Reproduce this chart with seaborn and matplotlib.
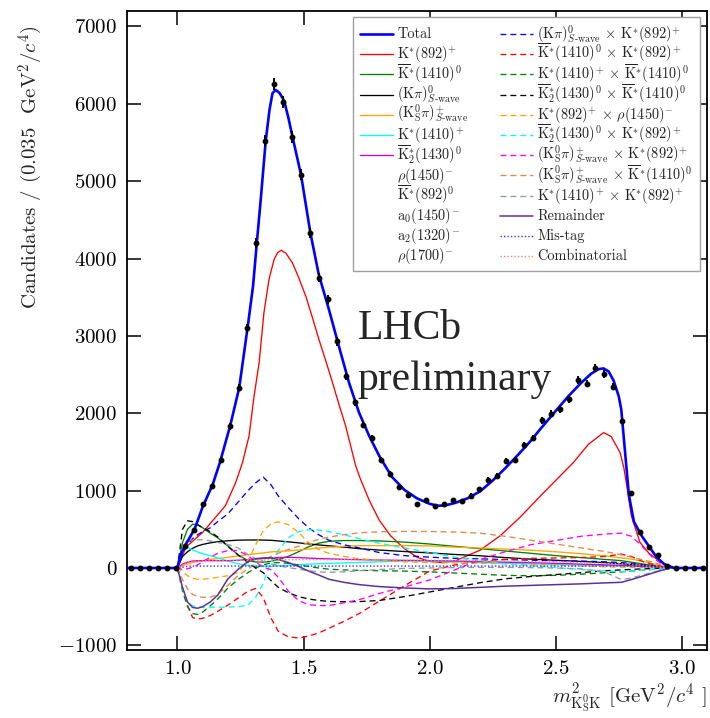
import numpy as np
import matplotlib
matplotlib.use("Agg")
import matplotlib.pyplot as plt
import seaborn as sns
from matplotlib.patches import Rectangle

# ---------------- data ----------------
# binned candidates, 65 bins between 0.8 and 3.1
x_range = (0.8, 3.1)
counts = [0, 0, 0, 0, 0, 0, 280, 490, 826, 1054, 1394, 1832, 2331, 3097, 4206,
          5523, 6258, 6026, 5574, 5084, 4335, 3755, 3471, 2930, 2477, 2144,
          1850, 1674, 1402, 1213, 1045, 946, 830, 873, 800, 830, 873, 860, 933,
          1019, 1139, 1191, 1381, 1394, 1587, 1677, 1908, 1995, 2052, 2181,
          2430, 2383, 2590, 2512, 2344, 1901, 968, 468, 267, 168, 30, 0, 0, 0, 0]

# total fit
tot_x = [0.80, 1.00, 1.01, 1.03, 1.05, 1.07, 1.10, 1.14, 1.17, 1.21, 1.245, 1.28,
         1.30, 1.315, 1.33, 1.35, 1.365, 1.377, 1.39, 1.405, 1.423, 1.44, 1.456,
         1.49, 1.527, 1.56, 1.60, 1.64, 1.68, 1.72, 1.76, 1.80, 1.85, 1.90, 1.95,
         2.00, 2.03, 2.06, 2.10, 2.15, 2.20, 2.25, 2.30, 2.35, 2.40, 2.44, 2.50,
         2.55, 2.60, 2.64, 2.67, 2.69, 2.71, 2.73, 2.75, 2.76, 2.775, 2.79, 2.81,
         2.84, 2.87, 2.90, 2.93, 2.97, 3.10]
tot_y = [0, 0, 150, 290, 400, 520, 790, 1080, 1380, 1850, 2330, 3150, 3650, 4210,
         4750, 5520, 5920, 6138, 6180, 6140, 6040, 5820, 5578, 5084, 4335, 3800,
         3350, 2870, 2400, 2010, 1710, 1450, 1180, 1010, 900, 830, 805, 808, 840,
         900, 990, 1130, 1290, 1460, 1640, 1800, 2030, 2220, 2390, 2510, 2570,
         2580, 2540, 2420, 2220, 2050, 1500, 950, 600, 420, 280, 140, 50, 0, 0]

# K*(892)+
k892_x = [0.80, 1.00, 1.033, 1.10, 1.19, 1.231, 1.258, 1.284, 1.304, 1.324, 1.343,
          1.363, 1.383, 1.398, 1.412, 1.43, 1.456, 1.48, 1.509, 1.535, 1.561, 1.59,
          1.615, 1.64, 1.667, 1.707, 1.726, 1.76, 1.80, 1.845, 1.90, 1.95, 2.00,
          2.05, 2.10, 2.20, 2.28, 2.36, 2.44, 2.505, 2.57, 2.63, 2.69, 2.72, 2.755,
          2.77, 2.784, 2.80, 2.834, 2.87, 2.90, 2.95, 2.97, 3.10]
k892_y = [0, 0, 267, 460, 804, 1105, 1363, 1707, 2224, 2654, 3299, 3729, 3987,
          4080, 4107, 4070, 3944, 3760, 3514, 3240, 2955, 2660, 2396, 2120, 1836,
          1320, 1148, 880, 620, 417, 250, 140, 85, 70, 90, 230, 417, 660, 933, 1148,
          1363, 1600, 1750, 1700, 1493, 1300, 1019, 675, 332, 190, 116, 20, 0, 0]

# common grid for the smaller components
grid_x = [0.80, 1.00, 1.02, 1.04, 1.06, 1.08, 1.10, 1.13, 1.16, 1.20, 1.24, 1.28,
          1.31, 1.34, 1.37, 1.40, 1.44, 1.48, 1.52, 1.56, 1.60, 1.66, 1.72, 1.80,
          1.90, 2.00, 2.10, 2.20, 2.30, 2.40, 2.50, 2.60, 2.70, 2.76, 2.80, 2.84,
          2.88, 2.92, 2.96, 3.10]
kbar1410 = [0, 0, 330, 500, 565, 560, 520, 450, 390, 285, 170, 95, 78, 75, 85, 110,
            150, 210, 275, 320, 345, 355, 355, 350, 335, 310, 280, 250, 220, 190,
            160, 135, 110, 95, 75, 55, 35, 15, 0, 0]
kpi_swave = [0, 0, 150, 210, 255, 285, 305, 325, 340, 352, 360, 362, 362, 361, 358,
             350, 338, 325, 312, 298, 287, 270, 250, 232, 213, 195, 175, 158, 135,
             115, 100, 85, 68, 55, 45, 35, 22, 10, 0, 0]
kspi_swave = [0, 0, 30, 50, 70, 85, 95, 110, 122, 138, 155, 172, 185, 195, 208, 215,
              222, 232, 245, 258, 268, 280, 288, 290, 290, 285, 270, 258, 245, 230,
              210, 185, 155, 130, 115, 90, 60, 25, 0, 0]
k1410p = [0, 0, 230, 265, 235, 205, 185, 160, 130, 90, 55, 35, 25, 22, 24, 28, 35,
          42, 50, 55, 60, 66, 72, 80, 90, 90, 80, 70, 60, 52, 45, 38, 30, 25, 22,
          18, 12, 5, 0, 0]
kbar2_1430 = [0, 0, 50, 75, 90, 95, 95, 95, 95, 95, 100, 110, 115, 122, 130, 135,
              138, 135, 128, 122, 118, 112, 108, 103, 98, 95, 90, 82, 75, 68, 60, 50,
              40, 35, 30, 22, 15, 6, 0, 0]
i_kpi_k892 = [0, 0, 180, 300, 380, 430, 470, 520, 600, 700, 850, 1000, 1100, 1175,
              1080, 930, 780, 640, 520, 430, 360, 300, 260, 200, 160, 140, 125, 118,
              110, 100, 95, 90, 80, 70, 60, 45, 30, 12, 0, 0]
i_kb1410_k892 = [0, 0, -250, -486, -640, -660, -650, -615, -560, -480, -390, -300,
                 -265, -380, -640, -820, -890, -905, -880, -840, -780, -690, -590,
                 -430, -230, -40, 40, 90, 110, 125, 130, 135, 150, 180, 150, 90, 50,
                 20, 0, 0]
i_k1410_kb1410 = [0, 0, -300, -500, -590, -600, -570, -490, -400, -260, -150, -60,
                  0, 40, 65, 70, 60, 40, 20, 0, -15, -25, -30, -35, -40, -50, -65,
                  -80, -95, -100, -95, -80, -60, -50, -40, -30, -20, -8, 0, 0]
i_kb2_kb1410 = [0, 0, 500, 610, 600, 560, 520, 470, 400, 280, 170, 70, 0, -60, -160,
                -250, -320, -370, -400, -420, -432, -436, -434, -420, -370, -310,
                -250, -190, -140, -110, -85, -60, -35, -25, -18, -12, -8, -3, 0, 0]
i_k892_rho1450 = [0, 0, -50, -100, -135, -145, -145, -135, -120, -100, -60, 100,
                  300, 480, 570, 598, 560, 460, 330, 240, 190, 150, 120, 100, 80, 70,
                  65, 60, 55, 45, 35, 25, 15, 10, 8, 5, 3, 1, 0, 0]
i_kb2_k892 = [0, 0, -270, -440, -490, -505, -507, -507, -507, -505, -500, -480,
              -380, -200, 70, 230, 390, 470, 495, 490, 470, 430, 380, 320, 260, 200,
              140, 95, 55, 30, 5, -20, -40, -47, -40, -30, -18, -8, 0, 0]
i_kspi_k892 = [0, 0, -20, -10, 10, 40, 80, 140, 190, 225, 225, 160, 80, 10, -20,
               -120, -300, -420, -475, -485, -486, -450, -410, -330, -245, -155, -25,
               110, 210, 300, 355, 410, 440, 450, 410, 290, 150, 50, 0, 0]
i_kspi_kb1410 = [0, 0, -150, -270, -340, -370, -378, -378, -340, -225, -100, -10,
                 50, 100, 150, 190, 240, 280, 330, 370, 400, 430, 455, 468, 473, 472,
                 465, 450, 410, 360, 310, 260, 210, 170, 140, 110, 80, 40, 0, 0]
i_k1410_k892 = [0, 0, 250, 350, 362, 365, 365, 350, 330, 305, 260, 175, 120, 85, 55,
                30, 5, -15, -35, -50, -56, -50, -35, -20, -5, 0, 5, 8, 8, 5, 0, -10,
                -60, -150, -130, -95, -60, -25, 0, 0]
remainder = [0, 0, -250, -440, -510, -520, -500, -440, -350, -140, -20, 85, 120, 130,
             130, 110, 70, 20, -40, -90, -145, -185, -215, -240, -258, -270, -265,
             -250, -235, -225, -215, -205, -192, -185, -150, -110, -70, -30, 0, 0]
mistag_x = [0.80, 1.00, 1.05, 2.80, 2.95, 3.10]
mistag_y = [0, 0, 25, 25, 0, 0]
comb_x = [0.80, 1.00, 1.05, 1.50, 2.00, 2.50, 2.80, 2.95, 3.10]
comb_y = [0, 0, 90, 110, 100, 80, 50, 0, 0]

col1_labels = ['Total', r'$\mathrm{K}^{*}(892)^{+}$',
               r'$\overline{\mathrm{K}}^{*}(1410)^{0}$',
               r'$(\mathrm{K}\pi)^{0}_{S\text{-wave}}$',
               r'$(\mathrm{K}^{0}_{\mathrm{S}}\pi)^{+}_{S\text{-wave}}$',
               r'$\mathrm{K}^{*}(1410)^{+}$',
               r'$\overline{\mathrm{K}}^{*}_{2}(1430)^{0}$',
               r'$\rho(1450)^{-}$', r'$\overline{\mathrm{K}}^{*}(892)^{0}$',
               r'$\mathrm{a}_{0}(1450)^{-}$', r'$\mathrm{a}_{2}(1320)^{-}$',
               r'$\rho(1700)^{-}$']
col2_labels = [r'$(\mathrm{K}\pi)^{0}_{S\text{-wave}}\,\times\,\mathrm{K}^{*}(892)^{+}$',
               r'$\overline{\mathrm{K}}^{*}(1410)^{0}\,\times\,\mathrm{K}^{*}(892)^{+}$',
               r'$\mathrm{K}^{*}(1410)^{+}\,\times\,\overline{\mathrm{K}}^{*}(1410)^{0}$',
               r'$\overline{\mathrm{K}}^{*}_{2}(1430)^{0}\,\times\,\overline{\mathrm{K}}^{*}(1410)^{0}$',
               r'$\mathrm{K}^{*}(892)^{+}\,\times\,\rho(1450)^{-}$',
               r'$\overline{\mathrm{K}}^{*}_{2}(1430)^{0}\,\times\,\mathrm{K}^{*}(892)^{+}$',
               r'$(\mathrm{K}^{0}_{\mathrm{S}}\pi)^{+}_{S\text{-wave}}\,\times\,\mathrm{K}^{*}(892)^{+}$',
               r'$(\mathrm{K}^{0}_{\mathrm{S}}\pi)^{+}_{S\text{-wave}}\,\times\,\overline{\mathrm{K}}^{*}(1410)^{0}$',
               r'$\mathrm{K}^{*}(1410)^{+}\,\times\,\mathrm{K}^{*}(892)^{+}$',
               'Remainder', 'Mis-tag', 'Combinatorial']

y_ticks = [-1000, 0, 1000, 2000, 3000, 4000, 5000, 6000, 7000]
x_ticks = [1.0, 1.5, 2.0, 2.5, 3.0]

# ---------------- style ----------------
sns.set_theme(style="ticks")
plt.rcParams.update({
    "font.family": ["cmr10", "DejaVu Serif"],
    "mathtext.fontset": "cm",
    "axes.formatter.use_mathtext": True,
    "axes.unicode_minus": True,
    "axes.linewidth": 1.3,
})

W, H = 710, 718
AX_L, AX_R, AX_T, AX_B = 127, 707, 11, 650
fig = plt.figure(figsize=(W / 100, H / 100), dpi=100)
ax = fig.add_axes([AX_L / W, 1 - AX_B / H, (AX_R - AX_L) / W, (AX_B - AX_T) / H])

DASH = (0, (4.5, 3))
DOT = (0, (1, 1.5))
comp_lw = 0.95

solid = [
    (k892_x, k892_y, "#ff0000"),
    (grid_x, kbar1410, "#008000"),
    (grid_x, kpi_swave, "#000000"),
    (grid_x, kspi_swave, "#ffa500"),
    (grid_x, k1410p, "#00ffff"),
    (grid_x, kbar2_1430, "#cc00cc"),
]
dashed = [
    (i_kpi_k892, "#0000ff"),
    (i_kb1410_k892, "#ff0000"),
    (i_k1410_kb1410, "#008000"),
    (i_kb2_kb1410, "#000000"),
    (i_k892_rho1450, "#ffa500"),
    (i_kb2_k892, "#00ffff"),
    (i_kspi_k892, "#ff00ff"),
    (i_kspi_kb1410, "#e0884a"),
    (i_k1410_k892, "#8c9aab"),
]

# legend handle styles (color, linestyle, lw); None = no line sample
handles1 = [("#0000ff", "-", 1.9)]
handles2 = []

for xs, ys, c in solid:
    sns.lineplot(x=xs, y=ys, ax=ax, color=c, lw=comp_lw, estimator=None, sort=False, zorder=3)
    handles1.append((c, "-", comp_lw))

for ys, c in dashed:
    sns.lineplot(x=grid_x, y=ys, ax=ax, color=c, lw=comp_lw, linestyle=DASH,
                 estimator=None, sort=False, zorder=3)
    handles2.append((c, DASH, comp_lw))

sns.lineplot(x=grid_x, y=remainder, ax=ax, color="#5e3295", lw=1.1, estimator=None, sort=False, zorder=3)
handles2.append(("#5e3295", "-", 1.1))
sns.lineplot(x=mistag_x, y=mistag_y, ax=ax, color="#3030ff", lw=1.0, linestyle=DOT, estimator=None, sort=False, zorder=3)
handles2.append(("#3030ff", DOT, 1.0))
sns.lineplot(x=comb_x, y=comb_y, ax=ax, color="#ff8080", lw=1.0, linestyle=DOT, estimator=None, sort=False, zorder=3)
handles2.append(("#ff8080", DOT, 1.0))

# total
sns.lineplot(x=tot_x, y=tot_y, ax=ax, color="#0000ff", lw=1.9, estimator=None, sort=False, zorder=5)
handles1 += [None] * 5

# data points
edges = np.linspace(x_range[0], x_range[1], len(counts) + 1)
centers = 0.5 * (edges[:-1] + edges[1:])
cnt = np.array(counts, dtype=float)
ax.errorbar(centers, cnt, yerr=np.sqrt(cnt), fmt="o", color="black", ms=3.2,
            elinewidth=1.4, capsize=0, zorder=10)

# axes
ax.set_xlim(*x_range)
ax.set_ylim(-1060, 7200)
ax.set_xticks(x_ticks)
ax.set_yticks(y_ticks)
ax.tick_params(direction="in", length=10, width=1.1, top=True, right=True,
               labelsize=15, pad=7, colors="black")
for s in ax.spines.values():
    s.set_color("black")
    s.set_linewidth(1.3)
ax.grid(False)

ax.set_ylabel(r"Candidates / (0.035  GeV$^2$/$c^4$)", fontsize=15, loc="top")
ax.yaxis.set_label_coords(-0.142, 0.978)
ax.set_xlabel(r"$m^2_{\mathrm{K^0_S K}}$ [GeV$^2$/$c^4$ ]", fontsize=15, loc="right", labelpad=2)

ax.text(0.397, 0.487, "LHCb", transform=ax.transAxes, fontsize=30,
        family="Liberation Serif", va="baseline", ha="left")
ax.text(0.397, 0.407, "preliminary", transform=ax.transAxes, fontsize=30,
        family="Liberation Serif", va="baseline", ha="left")


# ---------------- legend (fixed-pitch rows) ----------------
def fx(px):
    return (px - AX_L) / (AX_R - AX_L)


def fy(py):
    return (AX_B - py) / (AX_B - AX_T)


frame = Rectangle((fx(353), fy(271)), fx(700) - fx(353), fy(17) - fy(271),
                  transform=ax.transAxes, facecolor="white", edgecolor="#a0a0a0",
                  lw=1.0, zorder=20, clip_on=False)
ax.add_patch(frame)

row0, pitch = 34.0, 20.2
columns = [(handles1, col1_labels, 360, 393, 397), (handles2, col2_labels, 500, 533, 537)]
for hs, labs, hx0, hx1, tx in columns:
    for i, (h, lab) in enumerate(zip(hs, labs)):
        yrow = row0 + i * pitch
        if h is not None:
            c, ls, lw = h
            ax.plot([fx(hx0), fx(hx1)], [fy(yrow), fy(yrow)], transform=ax.transAxes,
                    color=c, linestyle=ls, lw=lw, zorder=21, clip_on=False)
        ax.text(fx(tx), fy(yrow + 4.3), lab, transform=ax.transAxes, fontsize=10.3,
                va="baseline", ha="left", color="#222222", zorder=22)

fig.savefig("out.png", dpi=100)
